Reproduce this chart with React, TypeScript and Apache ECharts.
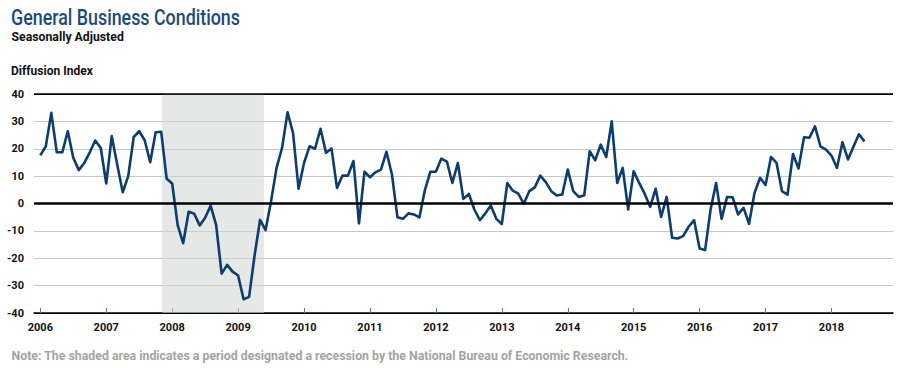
import React, { useEffect, useRef } from "react";
import * as echarts from "echarts";

// Monthly values, Jan 2006 .. Jul 2018
const values: number[] = [
  // 2006
  17.6, 20.9, 33.1, 18.7, 18.7, 26.4, 16.7, 12.2, 14.8, 18.7, 23.0, 20.3,
  // 2007
  7.3, 24.6, 14.2, 4.1, 10.0, 24.3, 26.4, 23.1, 15.1, 26.0, 26.2, 9.0,
  // 2008
  7.3, -7.9, -14.5, -3.0, -3.7, -8.0, -5.2, -0.8, -7.8, -25.6, -22.4, -24.9,
  // 2009
  -26.3, -35.0, -34.1, -18.9, -6.0, -9.7, 0.8, 13.0, 20.3, 33.3, 25.8, 5.4,
  // 2010
  14.8, 20.9, 20.0, 27.3, 18.5, 20.1, 5.7, 10.2, 10.2, 15.5, -7.3, 11.6,
  // 2011
  9.6, 11.4, 12.4, 18.9, 10.6, -5.0, -5.6, -3.6, -4.0, -5.1, 4.9, 11.6,
  // 2012
  11.6, 16.4, 15.3, 7.5, 14.8, 1.7, 3.5, -2.2, -6.1, -3.6, -0.7, -5.6,
  // 2013
  -7.5, 7.5, 4.7, 3.6, -0.1, 4.5, 5.9, 10.2, 7.8, 4.5, 2.9, 3.3,
  // 2014
  12.4, 4.5, 2.4, 3.0, 19.1, 15.8, 21.5, 17.0, 30.0, 7.5, 13.0, -2.2,
  // 2015
  11.8, 7.5, 3.6, -1.2, 5.4, -4.9, 2.4, -12.5, -12.8, -11.9, -8.5, -6.1,
  // 2016
  -16.4, -17.0, -2.2, 7.5, -5.6, 2.4, 2.3, -4.0, -1.6, -7.4, 3.9, 9.4,
  // 2017
  6.8, 17.0, 14.8, 4.5, 3.2, 18.1, 12.8, 24.2, 24.0, 28.2, 20.9, 19.7,
  // 2018
  17.5, 13.0, 22.4, 16.1, 20.7, 25.3, 22.7,
];

const yearLabels: string[] = [
  "2006", "2007", "2008", "2009", "2010", "2011", "2012",
  "2013", "2014", "2015", "2016", "2017", "2018",
];

// Recession (NBER), in month index units from Jan 2006
const recessionStart = 22.2;
const recessionEnd = 40.7;

const yTicks = { min: -40, max: 40, interval: 10 };

const titleText = "General Business Conditions";
const subtitleText = "Seasonally Adjusted";
const unitText = "Diffusion Index";
const noteText =
  "Note: The shaded area indicates a period designated a recession by the National Bureau of Economic Research.";

const FONT = "Roboto, 'Noto Sans', sans-serif";

function fitScale(text: string, font: string, target: number): number {
  const c = document.createElement("canvas").getContext("2d");
  if (!c) return 1;
  c.font = font;
  const w = c.measureText(text).width;
  return w > 0 ? target / w : 1;
}

function condensedText(
  text: string,
  x: number,
  y: number,
  size: number,
  weight: string,
  color: string,
  targetWidth: number
) {
  const font = `${weight} ${size}px Roboto`;
  return {
    type: "text",
    x,
    y,
    scaleX: fitScale(text, font, targetWidth),
    silent: true,
    style: {
      text,
      fill: color,
      fontFamily: FONT,
      fontSize: size,
      fontWeight: weight,
      textAlign: "left",
      textVerticalAlign: "middle",
    },
  };
}

export default function App() {
  const ref = useRef<HTMLDivElement>(null);

  useEffect(() => {
    document.body.style.margin = "0";
    if (!ref.current) return;
    const chart = echarts.init(ref.current, undefined, { renderer: "svg" });

    const data = values.map((v, i) => [i, v]);
    const tickValues = yearLabels.map((_, i) => i * 12);

    chart.setOption({
      animation: false,
      textStyle: { fontFamily: FONT },
      graphic: [
        condensedText(titleText, 11, 17.8, 21.5, "500", "#1c4b7b", 229),
        condensedText(subtitleText, 11.5, 36.5, 13, "bold", "#111", 112.5),
        condensedText(unitText, 11, 70, 13.5, "bold", "#111", 82),
        condensedText(noteText, 11.5, 355.5, 13, "bold", "#a3a3a3", 618),
      ],
      grid: { left: 34, right: 11, top: 94, bottom: 55, containLabel: false },
      xAxis: {
        type: "value",
        min: -1.15,
        max: 155.2,
        splitLine: { show: false },
        axisLine: { show: true, onZero: false, lineStyle: { color: "#000", width: 1.5 } },
        axisTick: {
          show: true,
          inside: true,
          length: 5,
          customValues: tickValues,
          lineStyle: { color: "#3f7fbf", width: 1 },
        },
        axisLabel: {
          customValues: tickValues,
          margin: 9,
          fontFamily: FONT,
          fontSize: 11,
          fontWeight: "bold",
          color: "#111",
          formatter: (v: number) => yearLabels[Math.round(v / 12)] ?? "",
        },
      },
      yAxis: {
        type: "value",
        min: yTicks.min,
        max: yTicks.max,
        interval: yTicks.interval,
        axisLine: { show: false },
        axisTick: { show: false },
        axisLabel: {
          margin: 10,
          fontFamily: FONT,
          fontSize: 11,
          fontWeight: "bold",
          color: "#111",
        },
        splitLine: {
          show: true,
          lineStyle: {
            color: ["#000", "#c8c8c8", "#c8c8c8", "#c8c8c8", "#000", "#c8c8c8", "#c8c8c8", "#c8c8c8", "#000"],
            width: 1,
          },
        },
      },
      series: [
        {
          type: "line",
          z: 1,
          data: [],
          silent: true,
          markArea: {
            silent: true,
            itemStyle: { color: "#d2d4d4", opacity: 0.55 },
            data: [[{ xAxis: recessionStart }, { xAxis: recessionEnd }]],
          },
          markLine: {
            silent: true,
            symbol: "none",
            label: { show: false },
            data: [
              { yAxis: 0, lineStyle: { color: "#000", width: 2.6, type: "solid" } },
              { yAxis: 40, lineStyle: { color: "#000", width: 1.5, type: "solid" } },
            ],
          },
        },
        {
          type: "line",
          z: 3,
          data,
          showSymbol: false,
          symbol: "none",
          lineStyle: { color: "#0c3d6e", width: 2.6, join: "round" },
        },
      ],
    });

    return () => chart.dispose();
  }, []);

  return (
    <div
      ref={ref}
      style={{ position: "absolute", left: 0, top: 0, width: 904, height: 368 }}
    />
  );
}
